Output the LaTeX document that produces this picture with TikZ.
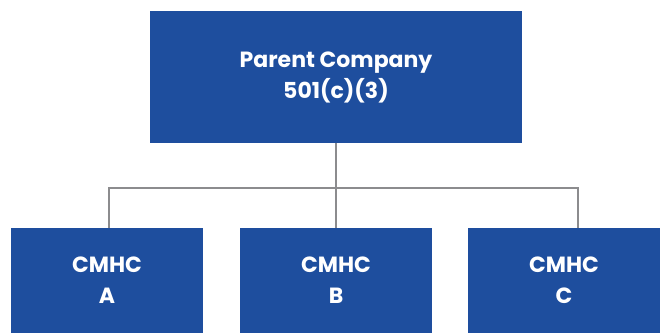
\documentclass[tikz,border=0pt]{standalone}
\usepackage{fontspec}
\setmainfont{Poppins}
\definecolor{boxblue}{HTML}{1E4E9E}
\definecolor{linegray}{HTML}{8C8C8E}
\begin{document}
\begin{tikzpicture}[x=1pt,y=-1pt,
  orgbox/.style={rectangle,fill=boxblue,draw=none,inner sep=0pt,text=white,align=center,
    font=\fontsize{22}{31}\selectfont\bfseries},
  conn/.style={draw=linegray,line width=2pt}]
\useasboundingbox (0,0) rectangle (660,333);
\node[orgbox,minimum width=372pt,minimum height=132pt] (P) at (336,77) {Parent Company\\501(c)(3)};
\node[orgbox,minimum width=192pt,minimum height=105pt] (A) at (107,280.5) {CMHC\\A};
\node[orgbox,minimum width=192pt,minimum height=105pt] (B) at (336,280.5) {CMHC\\B};
\node[orgbox,minimum width=192pt,minimum height=105pt] (C) at (564,280.5) {CMHC\\C};
\coordinate (jl) at (108.7,187.7);
\coordinate (jr) at (578,187.7);
\draw[conn] (A.north -| jl) -- (jl) -- (jr) -- (C.north -| jr);
\draw[conn] (P.south) -- (P.south |- jl);
\draw[conn] (B.north) -- (B.north |- jl);
\end{tikzpicture}
\end{document}
